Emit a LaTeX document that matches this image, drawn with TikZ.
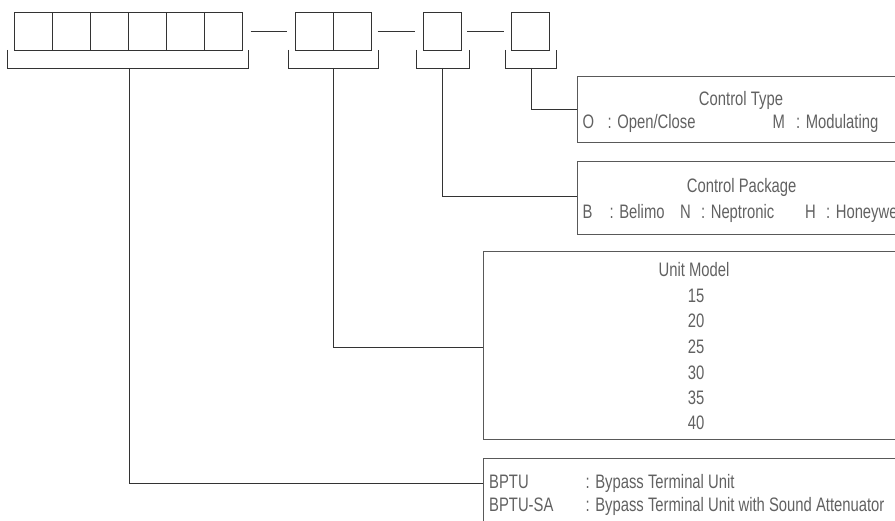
\documentclass[tikz,border=0pt]{standalone}
\usepackage{fontspec}
\setmainfont{Liberation Sans}[FakeStretch=0.76]
\begin{document}
\begin{tikzpicture}[x=1pt,y=-1pt,
  cell/.style={draw=black!80,line width=0.9pt,minimum width=37.9pt,minimum height=38pt,inner sep=0pt},
  link/.style={draw=black!80,line width=0.9pt},
  infobox/.style={draw=black!65,line width=1pt},
  lbl/.style={text=black!62,font=\fontsize{19.5}{23}\selectfont,inner sep=0pt,anchor=base},
  lblw/.style={lbl,anchor=base west}]
\useasboundingbox (0,0) rectangle (895,521);
\clip (0,0) rectangle (895,521);

% code cells
\foreach \i/\x in {1/33.6,2/71.5,3/109.4,4/147.3,5/185.2,6/223.1}
  \node[cell] (a\i) at (\x,31) {};
\node[cell] (b1) at (314.3,31) {};
\node[cell] (b2) at (352.3,31) {};
\node[cell] (c1) at (442.3,31) {};
\node[cell] (d1) at (530.7,31) {};

% separators
\draw[link] ([xshift=8]a6.east) -- ([xshift=-8]b1.west);
\draw[link] ([xshift=6]b2.east) -- ([xshift=-8]c1.west);
\draw[link] ([xshift=5.5]c1.east) -- ([xshift=-7.5]d1.west);

% brackets
\draw[link] (7.7,50) -- (7.7,68) -- (248.7,68) -- (248.7,50);
\draw[link] (288,50) -- (288,68) -- (378.3,68) -- (378.3,50);
\draw[link] (416,50) -- (416,68) -- (469,68) -- (469,50);
\draw[link] (505.3,50) -- (505.3,68) -- (556,68) -- (556,50);
\coordinate (sa) at (129.3,68);
\coordinate (sb) at (333.3,68);
\coordinate (sc) at (442.3,68);
\coordinate (sd) at (531,68);

% description boxes
\node[infobox,anchor=north west,minimum width=330pt,minimum height=66.6pt,inner sep=0pt] (typebox) at (577.3,75.7) {};
\node[infobox,anchor=north west,minimum width=330pt,minimum height=73pt,inner sep=0pt] (pkgbox) at (577.3,161) {};
\node[infobox,anchor=north west,minimum width=425pt,minimum height=188.3pt,inner sep=0pt] (modelbox) at (482.7,251) {};
\node[infobox,anchor=north west,minimum width=425pt,minimum height=80pt,inner sep=0pt] (unitbox) at (482.7,458.3) {};

% connectors
\draw[link] (sd) |- (typebox.west |- 0,109);
\draw[link] (sc) |- (pkgbox.west |- 0,196);
\draw[link] (sb) |- (modelbox.west |- 0,347.3);
\draw[link] (sa) |- (unitbox.west |- 0,483.7);

% Control Type
\node[lbl] (tt) at (741,105.7) {Control Type};
\node[lblw] (t1k) at (582.5,129) {O};
\node[lblw] (t1v) at (607.5,129) {: Open/Close};
\node[lblw] (t2k) at (772.5,129) {M};
\node[lblw] (t2v) at (796,129) {: Modulating};

% Control Package
\node[lbl] (pt) at (741.7,193) {Control Package};
\node[lblw] (p1k) at (582.5,219) {B};
\node[lblw] (p1v) at (609.5,219) {: Belimo};
\node[lblw] (p2k) at (680,219) {N};
\node[lblw] (p2v) at (701,219) {: Neptronic};
\node[lblw] (p3k) at (805,219) {H};
\node[lblw] (p3v) at (826,219) {: Honeywell};

% Unit Model
\node[lbl] (mt) at (694,277) {Unit Model};
\foreach \v/\y in {15/302.5,20/328,25/353.5,30/379.5,35/404.7,40/429.2}
  \node[lbl] (m\v) at (696,\y) {\v};

% Unit type
\node[lblw] (u1k) at (489,488.3) {BPTU};
\node[lblw] (u1v) at (585.5,488.3) {: Bypass Terminal Unit};
\node[lblw] (u2k) at (489,511.7) {BPTU-SA};
\node[lblw] (u2v) at (585.5,511.7) {: Bypass Terminal Unit with Sound Attenuator};
\end{tikzpicture}
\end{document}
